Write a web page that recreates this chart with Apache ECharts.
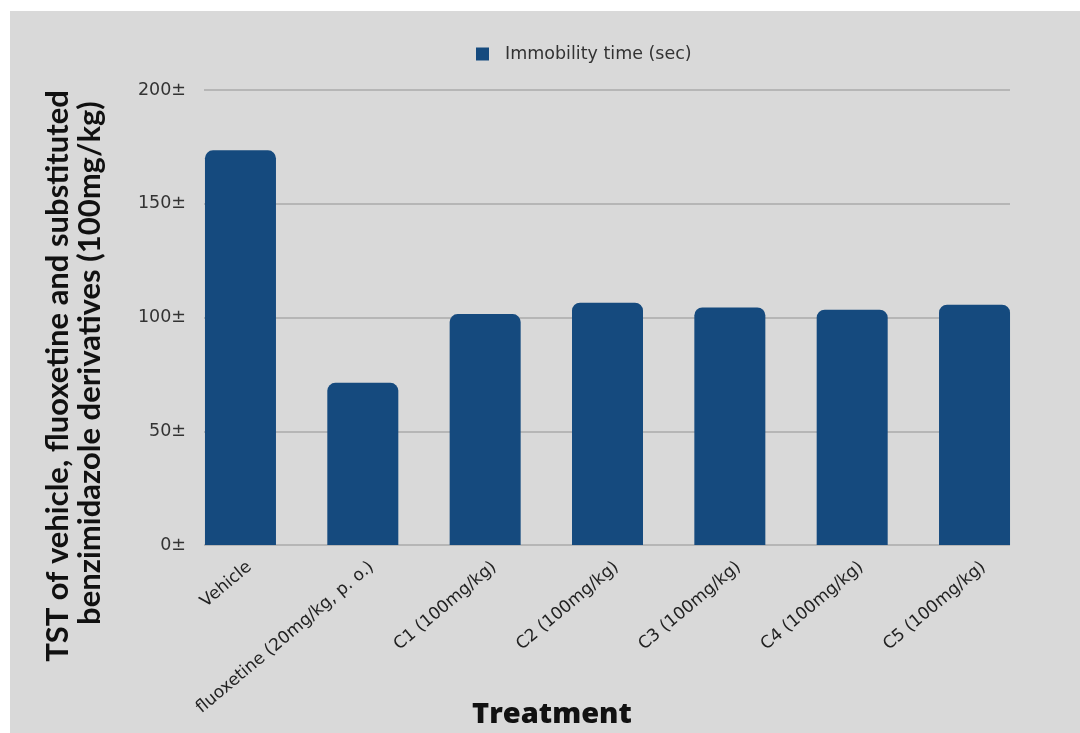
<!DOCTYPE html>
<html>
<head>
<meta charset="utf-8">
<script src="https://cdn.jsdelivr.net/npm/echarts@6/dist/echarts.min.js"></script>
<style>
  html, body { margin: 0; padding: 0; background: #ffffff; }
  #wrap { position: relative; width: 1080px; height: 733px; background: #ffffff; overflow: hidden; }
  #chart { position: absolute; left: 10px; top: 11px; width: 1070px; height: 722px; background: #d9d9d9; }
</style>
</head>
<body>
<div id="wrap"><div id="chart"></div></div>
<script>
// Tail suspension test: immobility time per treatment group
const categories = [
  'Vehicle',
  'fluoxetine (20mg/kg, p. o.)',
  'C1 (100mg/kg)',
  'C2 (100mg/kg)',
  'C3 (100mg/kg)',
  'C4 (100mg/kg)',
  'C5 (100mg/kg)'
];
const immobilityTime = [173.5, 71.3, 101.5, 106.5, 104.4, 103.4, 105.6];
const seriesName = 'Immobility time (sec)';
const yTicks = [0, 50, 100, 150, 200];
const yTitleLines = ['TST of vehicle, fluoxetine and substituted', 'benzimidazole derivatives (100mg/kg)'];
const xTitle = 'Treatment';

const barColor = '#154a7e';
const textFont = 'DejaVu Sans';

const chart = echarts.init(document.getElementById('chart'), null, { renderer: 'canvas' });

chart.setOption({
  backgroundColor: 'transparent',
  animation: false,
  legend: {
    data: [seriesName],
    left: 466,
    top: 34,
    padding: 0,
    itemWidth: 13,
    itemHeight: 13,
    icon: 'rect',
    textStyle: { fontFamily: textFont, fontSize: 17.5, color: '#333333', padding: [0, 0, 0, 11] }
  },
  grid: [
    // value grid: gridlines and y tick labels
    { left: 194, right: 70, top: 79, bottom: 188 },
    // bar grid: category bands extend slightly past the gridlines
    { left: 169.3, right: 44.3, top: 79, bottom: 188 },
    // label grid: category labels sit a little right of each bar centre
    { left: 178.3, right: 35.3, top: 79, bottom: 188 }
  ],
  xAxis: [
    { type: 'value', gridIndex: 0, min: 0, max: 1, show: false },
    {
      type: 'category',
      gridIndex: 1,
      data: categories,
      axisLine: { show: false },
      axisTick: { show: false },
      axisLabel: { show: false }
    },
    {
      type: 'category',
      gridIndex: 2,
      data: categories,
      axisLine: { show: false },
      axisTick: { show: false },
      axisLabel: {
        rotate: 40,
        margin: 20,
        interval: 0,
        fontFamily: textFont,
        fontSize: 17,
        color: '#222222'
      }
    }
  ],
  yAxis: [
    {
      type: 'value',
      gridIndex: 0,
      min: 0,
      max: 200,
      interval: 50,
      axisLine: { show: false },
      axisTick: { show: false },
      splitLine: { lineStyle: { color: '#aaaaaa', width: 1.5 } },
      axisLabel: {
        margin: 18,
        fontFamily: textFont,
        fontSize: 17.5,
        color: '#333333',
        formatter: function (v) { return yTicks.indexOf(v) >= 0 ? v + '±' : ''; }
      }
    },
    { type: 'value', gridIndex: 1, min: 0, max: 200, interval: 50, show: false },
    { type: 'value', gridIndex: 2, min: 0, max: 200, interval: 50, show: false }
  ],
  series: [
    {
      name: seriesName,
      type: 'bar',
      xAxisIndex: 1,
      yAxisIndex: 1,
      data: immobilityTime,
      barWidth: 71,
      itemStyle: { color: barColor, borderRadius: [8, 8, 0, 0] }
    }
  ],
  graphic: [
    {
      type: 'text',
      x: 48,
      y: 365,
      rotation: Math.PI / 2,
      style: {
        text: yTitleLines[0],
        font: 'bold 31px Lato',
        fill: '#111111',
        align: 'center',
        verticalAlign: 'middle'
      }
    },
    {
      type: 'text',
      x: 80,
      y: 352,
      rotation: Math.PI / 2,
      style: {
        text: yTitleLines[1],
        font: 'bold 31px Lato',
        fill: '#111111',
        align: 'center',
        verticalAlign: 'middle'
      }
    },
    {
      type: 'text',
      x: 542,
      y: 704,
      style: {
        text: xTitle,
        font: '800 29px "Open Sans"',
        fill: '#111111',
        align: 'center',
        verticalAlign: 'middle'
      }
    }
  ]
});
</script>
</body>
</html>
